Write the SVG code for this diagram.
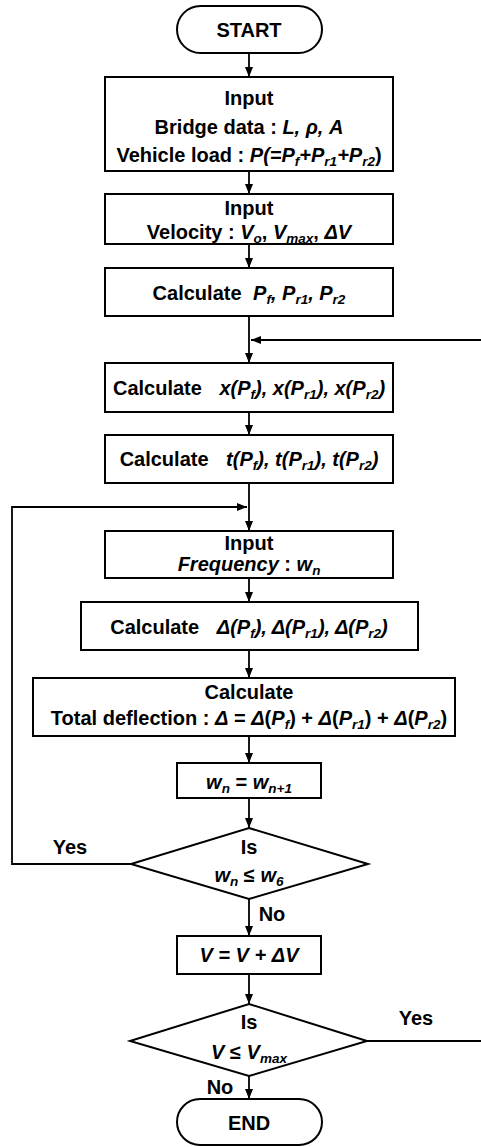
<svg xmlns="http://www.w3.org/2000/svg" width="481" height="1147" viewBox="0 0 481 1147">
<defs>
<marker id="ah" markerUnits="userSpaceOnUse" markerWidth="10" markerHeight="8" refX="10" refY="4" orient="auto">
<path d="M0,0 L10,4 L0,8 z" fill="#000"/>
</marker>
<style>
.s{fill:#fff;stroke:#000;stroke-width:2}
.c{fill:none;stroke:#000;stroke-width:1.8}
.a{marker-end:url(#ah)}
text{font-family:"Liberation Sans",Arial,sans-serif;font-weight:bold;font-size:20px;fill:#000;text-anchor:middle}
.i{font-style:italic}
.sb{font-size:13.5px;font-style:italic}
</style>
</defs>
<rect width="481" height="1147" fill="#fff"/>
<g id="connectors">
<line class="c a" x1="249" y1="53" x2="249" y2="77"/>
<line class="c a" x1="249" y1="171" x2="249" y2="194"/>
<line class="c a" x1="249" y1="244" x2="249" y2="268"/>
<line class="c a" x1="249" y1="316" x2="249" y2="363"/>
<line class="c a" x1="481" y1="340" x2="251" y2="340"/>
<line class="c a" x1="249" y1="412" x2="249" y2="435"/>
<line class="c a" x1="249" y1="483" x2="249" y2="531"/>
<polyline class="c a" points="131,864 12,864 12,507 247,507"/>
<line class="c a" x1="249" y1="578" x2="249" y2="602"/>
<line class="c a" x1="249" y1="650" x2="249" y2="678"/>
<line class="c a" x1="249" y1="736" x2="249" y2="763"/>
<line class="c a" x1="249" y1="798" x2="249" y2="828"/>
<line class="c a" x1="249" y1="899" x2="249" y2="936"/>
<line class="c a" x1="249" y1="974" x2="249" y2="1004"/>
<line class="c a" x1="249" y1="1076" x2="249" y2="1099"/>
<line class="c" x1="367" y1="1041" x2="481" y2="1041"/>
<text x="70" y="854">Yes</text>
<text x="272" y="921">No</text>
<text x="416" y="1025">Yes</text>
<text x="220" y="1094">No</text>
</g>
<g id="start">
<rect class="s" x="177" y="6" width="145" height="47" rx="23.5"/>
<text x="249" y="37">START</text>
</g>
<g id="input-bridge">
<rect class="s" x="105" y="77" width="288" height="94"/>
<text x="249" y="105">Input</text>
<text x="249" y="134">Bridge data : <tspan class="i">L, ρ, A</tspan></text>
<text x="249" y="162">Vehicle load : <tspan class="i">P(=P</tspan><tspan class="sb" dy="4">f</tspan><tspan class="i" dy="-4">+P</tspan><tspan class="sb" dy="4">r1</tspan><tspan class="i" dy="-4">+P</tspan><tspan class="sb" dy="4">r2</tspan><tspan dy="-4">)</tspan></text>
</g>
<g id="input-velocity">
<rect class="s" x="105" y="194" width="288" height="50"/>
<text x="249" y="215">Input</text>
<text x="249" y="239">Velocity : <tspan class="i">V</tspan><tspan class="sb" dy="4">o</tspan><tspan dy="-4">, </tspan><tspan class="i">V</tspan><tspan class="sb" dy="4">max</tspan><tspan dy="-4">, </tspan><tspan class="i">ΔV</tspan></text>
</g>
<g id="calc-p">
<rect class="s" x="105" y="268" width="288" height="48"/>
<text x="249" y="300">Calculate <tspan class="i" dx="6">P</tspan><tspan class="sb" dy="4">f</tspan><tspan class="i" dy="-4">, P</tspan><tspan class="sb" dy="4">r1</tspan><tspan class="i" dy="-4">, P</tspan><tspan class="sb" dy="4">r2</tspan></text>
</g>
<g id="calc-x">
<rect class="s" x="105" y="363" width="288" height="49"/>
<text x="249" y="395">Calculate <tspan class="i" dx="12">x(P</tspan><tspan class="sb" dy="4">f</tspan><tspan class="i" dy="-4">), x(P</tspan><tspan class="sb" dy="4">r1</tspan><tspan class="i" dy="-4">), x(P</tspan><tspan class="sb" dy="4">r2</tspan><tspan class="i" dy="-4">)</tspan></text>
</g>
<g id="calc-t">
<rect class="s" x="105" y="435" width="288" height="48"/>
<text x="249" y="466">Calculate <tspan class="i" dx="12">t(P</tspan><tspan class="sb" dy="4">f</tspan><tspan class="i" dy="-4">), t(P</tspan><tspan class="sb" dy="4">r1</tspan><tspan class="i" dy="-4">), t(P</tspan><tspan class="sb" dy="4">r2</tspan><tspan class="i" dy="-4">)</tspan></text>
</g>
<g id="input-frequency">
<rect class="s" x="105" y="531" width="288" height="47"/>
<text x="249" y="550">Input</text>
<text x="249" y="571"><tspan class="i">Frequency</tspan> : <tspan class="i">w</tspan><tspan class="sb" dy="4">n</tspan></text>
</g>
<g id="calc-delta">
<rect class="s" x="81" y="602" width="337" height="48"/>
<text x="249" y="634">Calculate <tspan class="i" dx="12">Δ(P</tspan><tspan class="sb" dy="4">f</tspan><tspan class="i" dy="-4">), Δ(P</tspan><tspan class="sb" dy="4">r1</tspan><tspan class="i" dy="-4">), Δ(P</tspan><tspan class="sb" dy="4">r2</tspan><tspan class="i" dy="-4">)</tspan></text>
</g>
<g id="calc-total">
<rect class="s" x="33" y="678" width="422" height="58"/>
<text x="249" y="699">Calculate</text>
<text x="249" y="725">Total deflection : <tspan class="i">Δ</tspan> = <tspan class="i">Δ</tspan>(<tspan class="i">P</tspan><tspan class="sb" dy="4">f</tspan><tspan dy="-4">) + </tspan><tspan class="i">Δ</tspan>(<tspan class="i">P</tspan><tspan class="sb" dy="4">r1</tspan><tspan dy="-4">) + </tspan><tspan class="i">Δ</tspan>(<tspan class="i">P</tspan><tspan class="sb" dy="4">r2</tspan><tspan dy="-4">)</tspan></text>
</g>
<g id="update-w">
<rect class="s" x="177" y="763" width="144" height="35"/>
<text x="249" y="789"><tspan class="i">w</tspan><tspan class="sb" dy="4">n</tspan><tspan dy="-4"> = </tspan><tspan class="i">w</tspan><tspan class="sb" dy="4">n+1</tspan></text>
</g>
<g id="decision-w">
<polygon class="s" points="249,828 368,864 249,899 131,864"/>
<text x="249" y="854">Is</text>
<text x="249" y="882"><tspan class="i">w</tspan><tspan class="sb" dy="4">n</tspan><tspan dy="-4"> ≤ </tspan><tspan class="i">w</tspan><tspan class="sb" dy="4">6</tspan></text>
</g>
<g id="update-v">
<rect class="s" x="177" y="936" width="144" height="38"/>
<text class="i" x="249" y="962">V = V + ΔV</text>
</g>
<g id="decision-v">
<polygon class="s" points="249,1004 367,1041 249,1076 130,1041"/>
<text x="249" y="1029">Is</text>
<text x="249" y="1059"><tspan class="i">V</tspan> ≤ <tspan class="i">V</tspan><tspan class="sb" dy="4">max</tspan></text>
</g>
<g id="end">
<rect class="s" x="177" y="1099" width="145" height="46" rx="23"/>
<text x="249" y="1130">END</text>
</g>
</svg>
